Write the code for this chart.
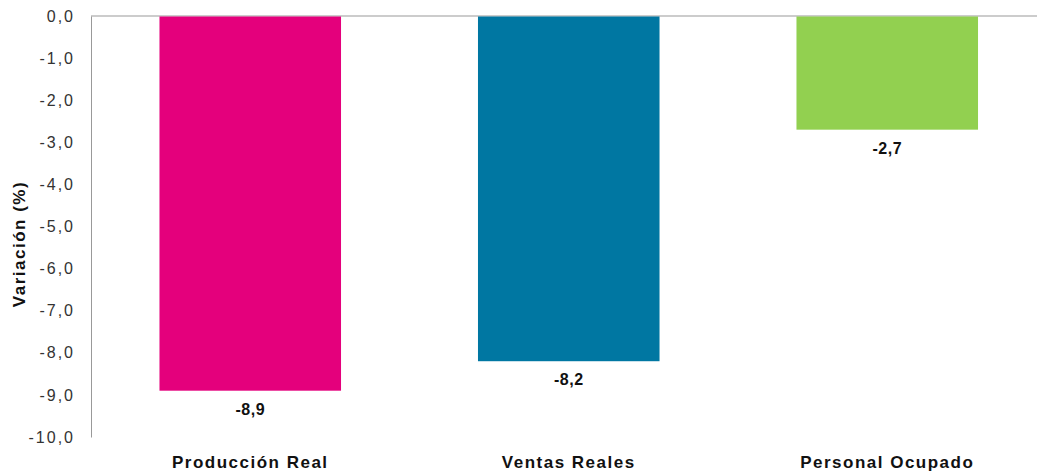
<!DOCTYPE html>
<html>
<head>
<meta charset="utf-8">
<script src="https://cdn.jsdelivr.net/npm/d3@7"></script>
<style>
  body { margin: 0; background: #fff; }
  text { font-family: "Liberation Sans", Arial, sans-serif; }
</style>
</head>
<body>
<div id="chart"></div>
<script>
// data
const categories = ["Producción Real", "Ventas Reales", "Personal Ocupado"];
const values = [-8.9, -8.2, -2.7];
const colors = ["#e4007c", "#0077a2", "#92d050"];
const yTicks = [0, -1, -2, -3, -4, -5, -6, -7, -8, -9, -10];

const width = 1037,
  height = 471;
const margin = { top: 16, left: 91, bottom: 34 };

const fmt = (d) => d3.format(".1f")(d).replace(".", ",").replace("−", "-");

const svg = d3
  .select("#chart")
  .append("svg")
  .attr("width", width)
  .attr("height", height);

const y = d3
  .scaleLinear()
  .domain([0, -10])
  .range([margin.top, height - margin.bottom]);

const x = d3
  .scaleBand()
  .domain(categories)
  .range([margin.left, margin.left + 3 * 318.5])
  .paddingInner(0.43)
  .paddingOuter(0.215);

// top baseline (zero line)
svg
  .append("line")
  .attr("x1", margin.left)
  .attr("x2", width)
  .attr("y1", y(0))
  .attr("y2", y(0))
  .attr("stroke", "#999")
  .attr("stroke-width", 1);

// y axis
const yAxis = d3
  .axisLeft(y)
  .tickValues(yTicks)
  .tickSize(0)
  .tickPadding(16)
  .tickFormat(fmt);

svg
  .append("g")
  .attr("transform", `translate(${margin.left},0)`)
  .call(yAxis)
  .call((g) => g.select(".domain").attr("stroke", "#999"))
  .call((g) =>
    g
      .selectAll("text")
      .attr("fill", "#333")
      .style("font-size", "16px")
      .style("letter-spacing", "2px")
  );

// bars
svg
  .selectAll("rect.bar")
  .data(values)
  .join("rect")
  .attr("class", "bar")
  .attr("x", (d, i) => x(categories[i]))
  .attr("width", x.bandwidth())
  .attr("y", y(0) + 0.5)
  .attr("height", (d) => y(d) - y(0) - 0.5)
  .attr("fill", (d, i) => colors[i]);

// value labels
svg
  .selectAll("text.val")
  .data(values)
  .join("text")
  .attr("class", "val")
  .attr("x", (d, i) => x(categories[i]) + x.bandwidth() / 2)
  .attr("y", (d) => y(d) + 24)
  .attr("text-anchor", "middle")
  .style("font-size", "16px")
  .style("font-weight", "bold")
  .style("letter-spacing", "0.5px")
  .attr("fill", "#111")
  .text(fmt);

// category labels
svg
  .selectAll("text.cat")
  .data(categories)
  .join("text")
  .attr("class", "cat")
  .attr("x", (d) => x(d) + x.bandwidth() / 2)
  .attr("y", 468)
  .attr("text-anchor", "middle")
  .style("font-size", "17px")
  .style("font-weight", "bold")
  .style("letter-spacing", "1.5px")
  .attr("fill", "#111")
  .text((d) => d);

// axis title
svg
  .append("text")
  .attr("transform", `translate(25,244) rotate(-90)`)
  .attr("text-anchor", "middle")
  .style("font-size", "17px")
  .style("font-weight", "bold")
  .style("letter-spacing", "1.5px")
  .attr("fill", "#111")
  .text("Variación (%)");
</script>
</body>
</html>
